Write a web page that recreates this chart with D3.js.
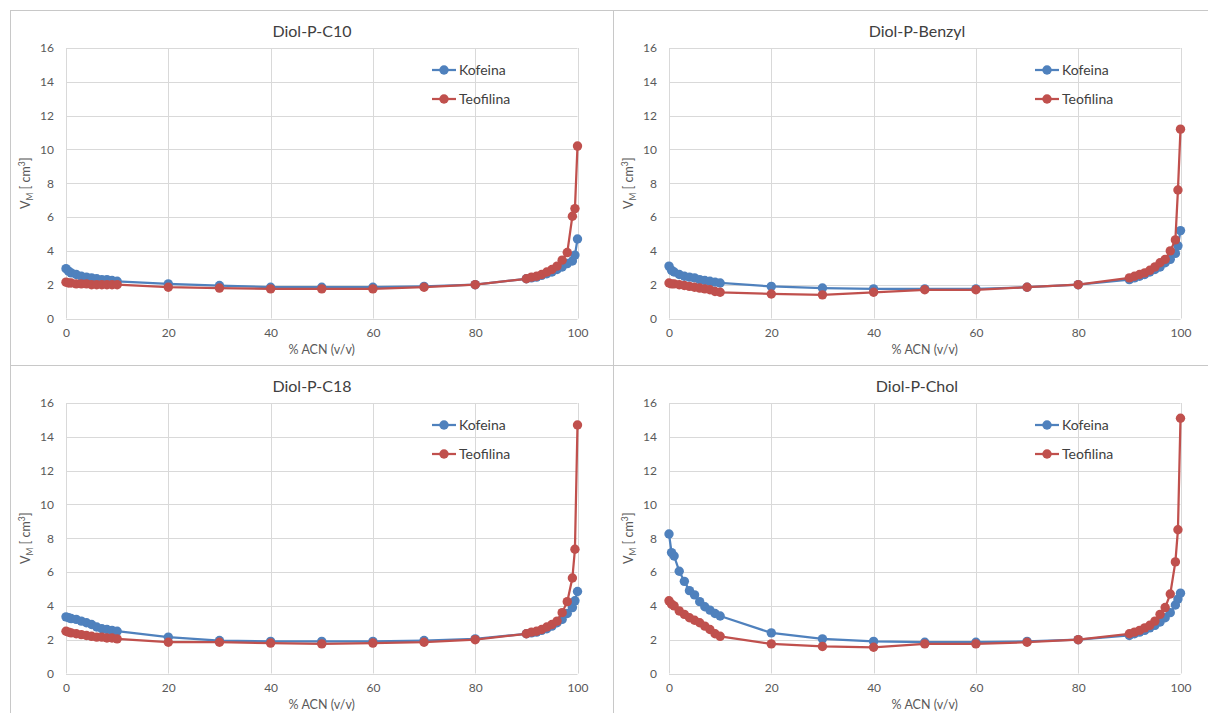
<!DOCTYPE html>
<html>
<head>
<meta charset="utf-8">
<script src="https://cdn.jsdelivr.net/npm/d3@7"></script>
<style>
  html, body { margin: 0; padding: 0; background: #fff; }
  svg { display: block; font-family: Lato, "Noto Sans", sans-serif; }
</style>
</head>
<body>
<svg id="chart" width="1208" height="713"></svg>
<script>
// % ACN (v/v) at which retention volumes were measured
const acn = [0, 0.5, 1, 2, 3, 4, 5, 6, 7, 8, 9, 10, 20, 30, 40, 50, 60, 70, 80,
             90, 91, 92, 93, 94, 95, 96, 97, 98, 99, 99.5, 100];

const seriesNames = ["Kofeina", "Teofilina"];
const columnNames = ["Diol-P-C10", "Diol-P-Benzyl", "Diol-P-C18", "Diol-P-Chol"];

// V_M [cm3] for caffeine (Kofeina) and theophylline (Teofilina) on each column
const c10Kofeina    = [2.95, 2.8, 2.7, 2.6, 2.5, 2.45, 2.4, 2.35, 2.3, 2.3, 2.25, 2.2, 2.05, 1.95, 1.85, 1.85, 1.85, 1.9, 2.0,
                       2.35, 2.4, 2.45, 2.55, 2.65, 2.75, 2.9, 3.05, 3.25, 3.4, 3.75, 4.7];
const c10Teofilina  = [2.15, 2.1, 2.1, 2.05, 2.05, 2.05, 2.0, 2.0, 2.0, 2.0, 2.0, 2.0, 1.85, 1.8, 1.75, 1.75, 1.75, 1.85, 2.0,
                       2.35, 2.45, 2.5, 2.6, 2.75, 2.9, 3.1, 3.45, 3.9, 6.05, 6.5, 10.2];
const benKofeina    = [3.1, 2.85, 2.75, 2.6, 2.5, 2.45, 2.4, 2.3, 2.25, 2.2, 2.15, 2.1, 1.9, 1.8, 1.75, 1.75, 1.75, 1.85, 2.0,
                       2.3, 2.4, 2.5, 2.6, 2.75, 2.9, 3.05, 3.3, 3.5, 3.85, 4.3, 5.2];
const benTeofilina  = [2.1, 2.05, 2.05, 2.0, 1.95, 1.9, 1.85, 1.8, 1.75, 1.7, 1.6, 1.55, 1.45, 1.4, 1.55, 1.7, 1.7, 1.85, 2.0,
                       2.4, 2.5, 2.6, 2.7, 2.85, 3.05, 3.3, 3.5, 4.0, 4.65, 7.6, 11.2];
const c18Kofeina    = [3.35, 3.3, 3.25, 3.2, 3.1, 3.0, 2.9, 2.75, 2.65, 2.6, 2.55, 2.5, 2.15, 1.95, 1.9, 1.9, 1.9, 1.95, 2.05,
                       2.35, 2.4, 2.45, 2.55, 2.65, 2.8, 3.0, 3.2, 3.55, 3.9, 4.3, 4.85];
const c18Teofilina  = [2.5, 2.45, 2.4, 2.35, 2.3, 2.25, 2.2, 2.15, 2.15, 2.1, 2.1, 2.05, 1.85, 1.85, 1.8, 1.75, 1.8, 1.85, 2.0,
                       2.35, 2.45, 2.5, 2.6, 2.75, 2.9, 3.1, 3.6, 4.25, 5.65, 7.35, 14.7];
const cholKofeina   = [8.25, 7.15, 6.95, 6.05, 5.45, 4.9, 4.65, 4.25, 3.95, 3.75, 3.55, 3.4, 2.4, 2.05, 1.9, 1.85, 1.85, 1.9, 2.0,
                       2.25, 2.35, 2.45, 2.55, 2.7, 2.85, 3.05, 3.3, 3.6, 4.05, 4.4, 4.75];
const cholTeofilina = [4.3, 4.1, 4.0, 3.7, 3.5, 3.3, 3.15, 3.0, 2.8, 2.6, 2.35, 2.2, 1.75, 1.6, 1.55, 1.75, 1.75, 1.85, 2.0,
                       2.35, 2.45, 2.55, 2.7, 2.85, 3.1, 3.5, 3.9, 4.7, 6.6, 8.5, 15.1];

const xTicks = [0, 20, 40, 60, 80, 100];
const yTicks = [0, 2, 4, 6, 8, 10, 12, 14, 16];

const panelSeries = [
  [c10Kofeina, c10Teofilina],
  [benKofeina, benTeofilina],
  [c18Kofeina, c18Teofilina],
  [cholKofeina, cholTeofilina]
];

const colors = ["#4F81BD", "#C0504D"];
const svg = d3.select("#chart");

// chart boxes: 2 x 2 grid
const boxes = [
  {x: 10,  y: 10,  w: 603, h: 355},
  {x: 613, y: 10,  w: 607, h: 355},
  {x: 10,  y: 365, w: 603, h: 355},
  {x: 613, y: 365, w: 607, h: 355}
];

boxes.forEach((b, i) => {
  const g = svg.append("g").attr("transform", `translate(${b.x},${b.y})`);
  g.append("rect").attr("x", 0.5).attr("y", 0.5).attr("width", b.w).attr("height", b.h)
    .attr("fill", "#fff").attr("stroke", "#c8c8c8").attr("stroke-width", 1);

  const left = 56, top = 38, plotW = 511.5, plotH = 270.5;
  const x = d3.scaleLinear().domain([0, 100]).range([left, left + plotW]);
  const y = d3.scaleLinear().domain([0, 16]).range([top + plotH, top]);

  // gridlines
  g.append("g").selectAll("line.h").data(yTicks).join("line")
    .attr("x1", left).attr("x2", left + plotW)
    .attr("y1", d => Math.round(y(d)) + 0.5).attr("y2", d => Math.round(y(d)) + 0.5)
    .attr("stroke", "#d9d9d9").attr("stroke-width", 1);
  g.append("g").selectAll("line.v").data(xTicks).join("line")
    .attr("y1", top).attr("y2", top + plotH)
    .attr("x1", d => Math.round(x(d)) + 0.5).attr("x2", d => Math.round(x(d)) + 0.5)
    .attr("stroke", "#d9d9d9").attr("stroke-width", 1);

  // axes (labels only, Excel style)
  const yAxis = g.append("g").attr("transform", `translate(${left},0)`)
    .call(d3.axisLeft(y).tickValues(yTicks).tickSize(0).tickPadding(12));
  const xAxis = g.append("g").attr("transform", `translate(0,${top + plotH})`)
    .call(d3.axisBottom(x).tickValues(xTicks).tickSize(0).tickPadding(10));
  [xAxis, yAxis].forEach(a => {
    a.select(".domain").remove();
    a.selectAll("text").attr("fill", "#595959").style("font-size", "12px")
      .style("font-family", "Lato, 'Noto Sans', sans-serif");
  });

  // title
  g.append("text").attr("x", b.w / 2 + 0.5).attr("y", 27)
    .attr("text-anchor", "middle").attr("fill", "#404040")
    .style("font-size", "16px").style("font-weight", "normal").text(columnNames[i]);

  // x-axis title
  g.append("text").attr("x", left + plotW / 2).attr("y", top + plotH + 35)
    .attr("text-anchor", "middle").attr("fill", "#595959")
    .style("font-size", "12.5px").text("% ACN (v/v)");

  // y-axis title: V_M [ cm³]
  const yt = g.append("text")
    .attr("transform", `translate(${20},${top + plotH / 2}) rotate(-90)`)
    .attr("text-anchor", "middle").attr("fill", "#595959").style("font-size", "12.5px");
  yt.append("tspan").text("V");
  yt.append("tspan").attr("dy", 3).style("font-size", "8.5px").text("M");
  yt.append("tspan").attr("dy", -3).text(" [ cm");
  yt.append("tspan").attr("dy", -5).style("font-size", "8.5px").text("3");
  yt.append("tspan").attr("dy", 5).text("]");

  // series
  const line = d3.line().x((d, k) => x(acn[k])).y(d => y(d));
  panelSeries[i].forEach((vals, s) => {
    const sg = g.append("g");
    sg.append("path").datum(vals).attr("d", line)
      .attr("fill", "none").attr("stroke", colors[s]).attr("stroke-width", 2.25)
      .attr("stroke-linejoin", "round");
    sg.selectAll("circle").data(vals).join("circle")
      .attr("cx", (d, k) => x(acn[k])).attr("cy", d => y(d))
      .attr("r", 4.7).attr("fill", colors[s]);
  });

  // legend
  seriesNames.forEach((name, s) => {
    const ly = top + 22 + s * 29;
    const lx = left + 366;
    g.append("line").attr("x1", lx).attr("x2", lx + 24).attr("y1", ly).attr("y2", ly)
      .attr("stroke", colors[s]).attr("stroke-width", 2.25);
    g.append("circle").attr("cx", lx + 12).attr("cy", ly).attr("r", 4.7).attr("fill", colors[s]);
    g.append("text").attr("x", lx + 27).attr("y", ly + 5)
      .attr("fill", "#404040").style("font-size", "14px").text(name);
  });
});
</script>
</body>
</html>
